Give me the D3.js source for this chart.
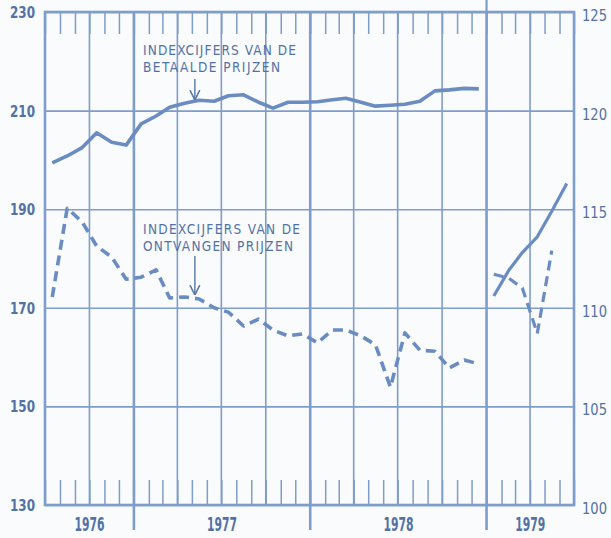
<!DOCTYPE html>
<html>
<head>
<meta charset="utf-8">
<script src="https://cdn.jsdelivr.net/npm/d3@7"></script>
<style>
  html, body { margin: 0; padding: 0; background: #fafbfc; }
  svg text { font-family: "Liberation Sans Narrow", "DejaVu Sans Condensed", "Roboto Condensed", sans-serif; fill: #5272a5; }
</style>
</head>
<body>
<div class="chart"></div>
<script>
// Maanden juli 1976 t/m december 1978 (linker as, 1970 = 100)
const months = [
  "1976-07", "1976-08", "1976-09", "1976-10", "1976-11", "1976-12",
  "1977-01", "1977-02", "1977-03", "1977-04", "1977-05", "1977-06",
  "1977-07", "1977-08", "1977-09", "1977-10", "1977-11", "1977-12",
  "1978-01", "1978-02", "1978-03", "1978-04", "1978-05", "1978-06",
  "1978-07", "1978-08", "1978-09", "1978-10", "1978-11", "1978-12"
];
const betaald = [
  199.4, 200.8, 202.5, 205.5, 203.6, 203.0,
  207.3, 208.9, 210.7, 211.5, 212.1, 211.9,
  213.0, 213.2, 211.7, 210.5, 211.7, 211.7,
  211.8, 212.2, 212.5, 211.7, 210.9, 211.1,
  211.3, 211.9, 214.0, 214.2, 214.5, 214.4
];
const ontvangen = [
  172.2, 190.2, 187.4, 182.5, 180.3, 175.8,
  176.2, 177.7, 172.0, 172.2, 171.8, 170.0,
  169.1, 166.3, 167.7, 165.5, 164.3, 164.7,
  162.9, 165.5, 165.5, 164.3, 162.5, 153.9,
  164.9, 161.4, 161.2, 157.8, 159.4, 158.6
];

// 1979 op nieuwe basis (rechter as)
const months79 = ["1979-01", "1979-02", "1979-03", "1979-04", "1979-05", "1979-06"];
const betaald79 = [110.6, 111.9, 112.8, 113.6, 114.9, 116.3];
const ontvangen79 = [111.7, 111.5, 111.0, 108.7, 112.9];

const leftTicks = [130, 150, 170, 190, 210, 230];
const rightTicks = [100, 105, 110, 115, 120, 125];
const years = ["1976", "1977", "1978", "1979"];

const W = 611, H = 538;
const margin = { top: 12, right: 37, bottom: 33, left: 45 };
const innerW = W - margin.left - margin.right;
const innerH = H - margin.top - margin.bottom;

const line_col = "#6a8cc0";
const grid_col = "#7f9dca";
const parse = d3.timeParse("%Y-%m");
const mid = s => d3.timeDay.offset(parse(s), 15);

const svg = d3.select(".chart").append("svg")
    .attr("width", W)
    .attr("height", H);

const g = svg.append("g")
    .attr("transform", `translate(${margin.left},${margin.top})`);

// scales
const x = d3.scaleTime()
    .domain([parse("1976-07"), parse("1979-07")])
    .range([0, innerW]);
const yL = d3.scaleLinear().domain([130, 230]).range([innerH, 0]);
const yR = d3.scaleLinear().domain([100, 125]).range([innerH, 0]);

// horizontal grid
g.append("g")
    .call(d3.axisLeft(yL).tickValues(leftTicks).tickSize(-innerW).tickFormat(""))
    .call(s => s.select(".domain").remove())
    .selectAll("line").attr("stroke", grid_col).attr("stroke-width", 1.6);

// quarter grid
const quarters = d3.timeMonth.every(3).range(x.domain()[0], x.domain()[1]);
g.append("g").selectAll("line")
    .data(quarters)
    .join("line")
    .attr("x1", d => x(d)).attr("x2", d => x(d))
    .attr("y1", 0).attr("y2", innerH)
    .attr("stroke", grid_col)
    .attr("stroke-width", d => d.getMonth() === 0 ? 2.6 : 1.6);

// month ticks, top and bottom
g.append("g")
    .call(d3.axisTop(x).ticks(d3.timeMonth.every(1)).tickSize(-22).tickFormat(""))
    .call(s => s.select(".domain").remove())
    .selectAll("line").attr("stroke", grid_col).attr("stroke-width", 1.5);
g.append("g")
    .attr("transform", `translate(0,${innerH})`)
    .call(d3.axisBottom(x).ticks(d3.timeMonth.every(1)).tickSize(-25).tickFormat(""))
    .call(s => s.select(".domain").remove())
    .selectAll("line").attr("stroke", grid_col).attr("stroke-width", 1.5);

// year separators below the axis
const yearStarts = years.slice(1).map(y => d3.timeParse("%Y")(y));
g.append("g").selectAll("line")
    .data(yearStarts)
    .join("line")
    .attr("x1", d => x(d)).attr("x2", d => x(d))
    .attr("y1", innerH).attr("y2", innerH + 25)
    .attr("stroke", grid_col).attr("stroke-width", 2.6);
// 1979 separator also above the frame
g.append("line")
    .attr("x1", x(yearStarts[2])).attr("x2", x(yearStarts[2]))
    .attr("y1", -12).attr("y2", 0)
    .attr("stroke", grid_col).attr("stroke-width", 2.2);

// frame
g.append("rect")
    .attr("width", innerW).attr("height", innerH)
    .attr("fill", "none")
    .attr("stroke", grid_col).attr("stroke-width", 2.6);

// left axis labels
g.append("g").selectAll("text")
    .data(leftTicks)
    .join("text")
    .attr("x", -10)
    .attr("y", d => yL(d) + 6)
    .attr("text-anchor", "end")
    .attr("font-size", 16.5)
    .attr("font-weight", "bold")
    .attr("textLength", 25)
    .attr("lengthAdjust", "spacingAndGlyphs")
    .text(d => d);

// right axis labels
g.append("g").selectAll("text")
    .data(rightTicks)
    .join("text")
    .attr("x", innerW + 8)
    .attr("y", d => yR(d) + 9)
    .attr("font-size", 16)
    .attr("textLength", 25)
    .attr("lengthAdjust", "spacingAndGlyphs")
    .text(d => d);

// year labels
g.append("g").selectAll("text")
    .data(years)
    .join("text")
    .attr("x", d => {
        const a = d3.max([parse(d + "-01"), x.domain()[0]]);
        const b = d3.min([parse((+d + 1) + "-01"), x.domain()[1]]);
        return (x(a) + x(b)) / 2 - 15;
    })
    .attr("y", innerH + 26)
    .attr("font-size", 19)
    .attr("font-weight", "bold")
    .attr("textLength", 30)
    .attr("lengthAdjust", "spacingAndGlyphs")
    .text(d => d);

// lines
const lineL = d3.line().x(d => x(mid(d.m))).y(d => yL(d.v));
const lineR = d3.line().x(d => x(mid(d.m))).y(d => yR(d.v));

g.append("path")
    .datum(months.map((m, i) => ({ m, v: betaald[i] })))
    .attr("d", lineL)
    .attr("fill", "none").attr("stroke", line_col)
    .attr("stroke-width", 3.6).attr("stroke-linejoin", "round");

g.append("path")
    .datum(months.map((m, i) => ({ m, v: ontvangen[i] })))
    .attr("d", lineL)
    .attr("fill", "none").attr("stroke", line_col)
    .attr("stroke-width", 3.6).attr("stroke-dasharray", "10,6")
    .attr("stroke-linejoin", "round");

g.append("path")
    .datum(months79.map((m, i) => ({ m, v: betaald79[i] })))
    .attr("d", lineR)
    .attr("fill", "none").attr("stroke", line_col)
    .attr("stroke-width", 3.2).attr("stroke-linejoin", "round");

g.append("path")
    .datum(ontvangen79.map((v, i) => ({ m: months79[i], v })))
    .attr("d", lineR)
    .attr("fill", "none").attr("stroke", line_col)
    .attr("stroke-width", 3.2).attr("stroke-dasharray", "10,6")
    .attr("stroke-linejoin", "round");

// annotations
svg.append("defs").append("marker")
    .attr("id", "arrow")
    .attr("viewBox", "0 0 10 10")
    .attr("refX", 9).attr("refY", 5)
    .attr("markerWidth", 7).attr("markerHeight", 9)
    .attr("orient", "auto")
    .append("path")
    .attr("d", "M0,0 L10,5 L0,10")
    .attr("fill", "none").attr("stroke", "#5676a8").attr("stroke-width", 1.6);

function annotate(lines, widths, ty, arrowFrom, arrowTo) {
    lines.forEach((l, i) => {
        g.append("text")
            .attr("x", 98)
            .attr("y", ty + i * 17)
            .attr("font-size", 13.5)
            .attr("textLength", widths[i])
            .attr("lengthAdjust", "spacing")
            .text(l);
    });
    const ax = x(parse("1977-05")) + 3;
    g.append("line")
        .attr("x1", ax).attr("x2", ax)
        .attr("y1", arrowFrom).attr("y2", arrowTo)
        .attr("stroke", "#5676a8").attr("stroke-width", 1.4)
        .attr("marker-end", "url(#arrow)");
}
annotate(["INDEXCIJFERS VAN DE", "BETAALDE PRIJZEN"], [153, 137], 43, 67, 87);
annotate(["INDEXCIJFERS VAN DE", "ONTVANGEN PRIJZEN"], [157, 150], 222, 244, 282);
</script>
</body>
</html>
